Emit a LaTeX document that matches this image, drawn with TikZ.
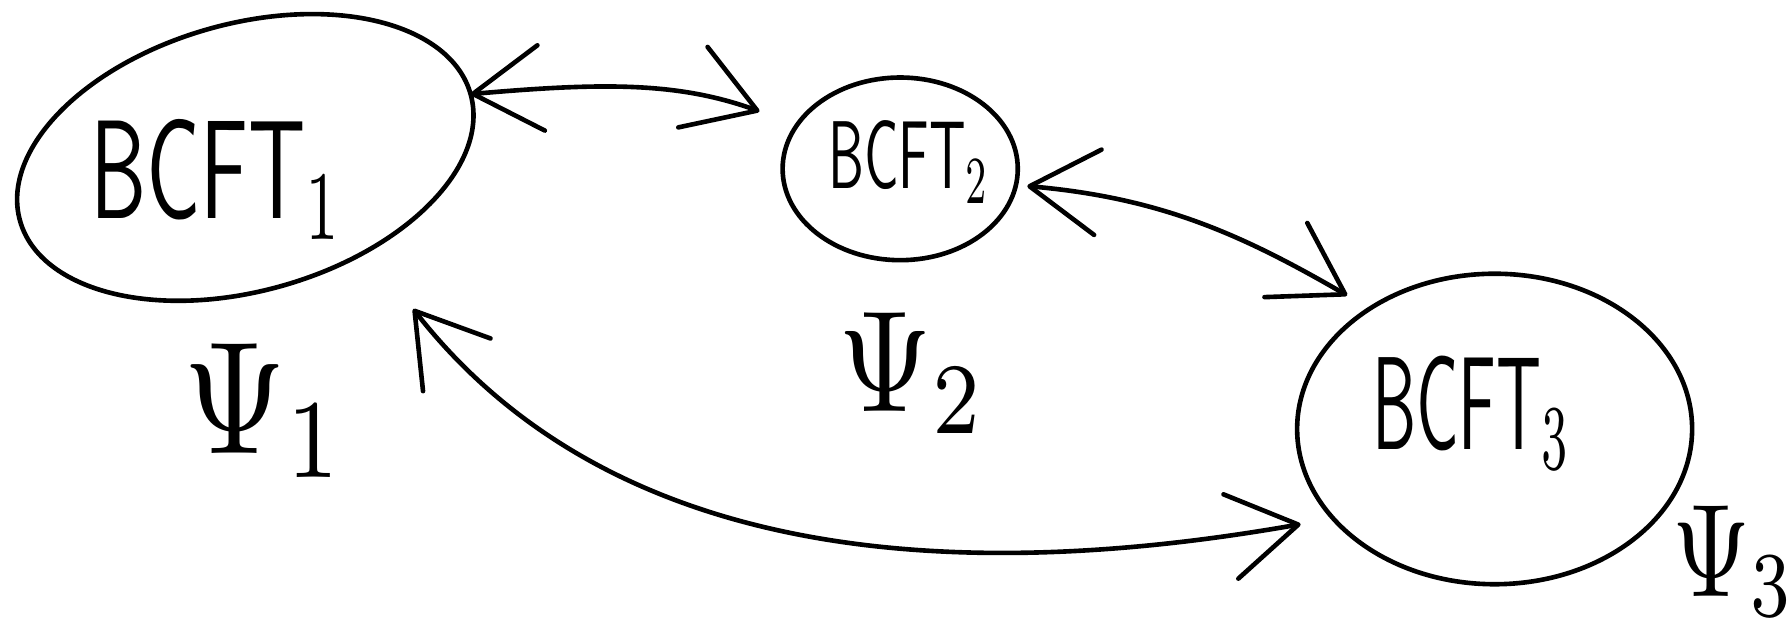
\documentclass[tikz,border=0pt]{standalone}
\usetikzlibrary{shapes.geometric,arrows.meta}
\begin{document}
\begin{tikzpicture}[x=0.01cm,y=0.01cm,
  stroke/.style={line width=1.15pt, line cap=round, line join=round},
  blob/.style={stroke, draw, ellipse, inner sep=0pt, outer sep=0pt},
  barb/.tip={Straight Barb[length=6mm,width=7.5mm,line cap=round,line join=round]},
  twoway/.style={stroke, barb-barb},
  theory/.style={font=\sffamily, inner sep=0pt},
  wavefn/.style={inner sep=0pt}
]
\useasboundingbox (0,0) rectangle (1568,558);
\clip (0,0) rectangle (1568,558);

% the three boundary theories
\node[blob, minimum width=4.10cm, minimum height=2.34cm, rotate=15.7] (e1) at (215,420) {};
\node[blob, minimum width=2.06cm, minimum height=1.60cm] (e2) at (789,410) {};
\node[blob, minimum width=3.46cm, minimum height=2.72cm] (e3) at (1310,182) {};

\node[theory, xscale=2.1, yscale=3.5] (t1) at (190,401) {BCFT$_1$};
\node[theory, xscale=1.34, yscale=2.4] (t2) at (797,416) {BCFT$_2$};
\node[theory, xscale=1.65, yscale=3.3] (t3) at (1290,196) {BCFT$_3$};

% states
\node[wavefn, xscale=3.3, yscale=4.0] (p1) at (232,198) {$\Psi_1$};
\node[wavefn, xscale=3.0, yscale=3.6] (p2) at (800,231) {$\Psi_2$};
\node[wavefn, xscale=2.5, yscale=3.3] (p3) at (1520,66) {$\Psi_3$};

% interfaces between them
\draw[twoway, shorten >=0.35cm] (e1.0) to[out=5, in=160] (e2.157.6);
\draw[twoway, shorten <=0.10cm, shorten >=0.23cm] (e2.-8.7) to[out=-5, in=150] (e3.136.4);
\draw[twoway, shorten <=0.65cm, shorten >=0.29cm] (e1.-53.6) to[out=-52, in=190] (e3.209.7);
\end{tikzpicture}
\end{document}
